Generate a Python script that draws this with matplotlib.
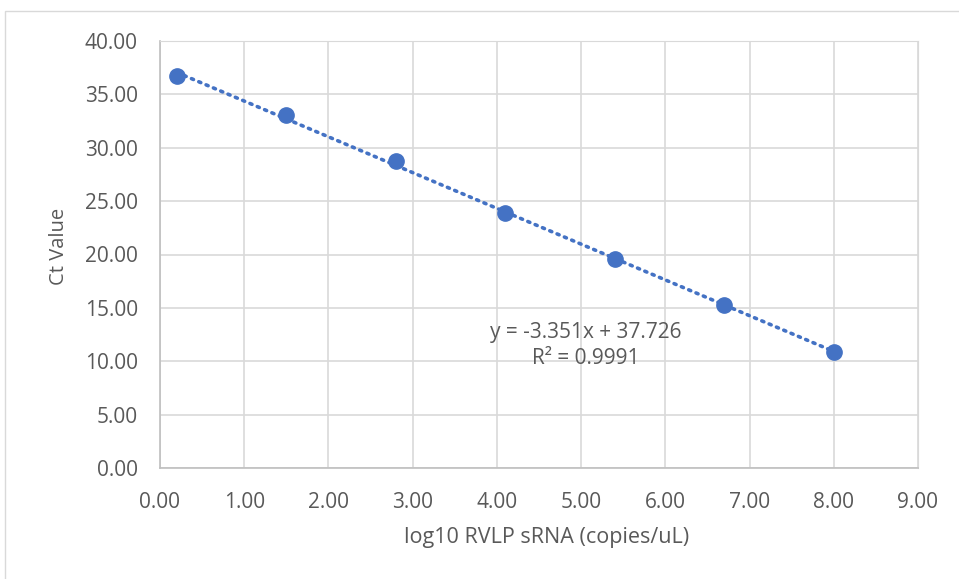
import matplotlib.pyplot as plt
from matplotlib.patches import Rectangle

log_conc = [0.2, 1.5, 2.8, 4.1, 5.4, 6.7, 8.0]
ct_values = [36.7, 33.05, 28.75, 23.9, 19.55, 15.25, 10.85]
slope = -3.351
intercept = 37.726
r2 = 0.9991

blue = '#4472C4'
grey_txt = '#595959'
grid_col = '#D9D9D9'

plt.rcParams['font.family'] = ['Open Sans', 'DejaVu Sans']

W, H = 959, 579
fig = plt.figure(figsize=(W / 100, H / 100), dpi=100)
ax_l, ax_r, ax_t, ax_b = 160, 918, 41, 468
ax = fig.add_axes([ax_l / W, 1 - ax_b / H, (ax_r - ax_l) / W, (ax_b - ax_t) / H])

# chart border
fig.patches.append(Rectangle((5 / W, -0.01), 1.0, 1 - 11 / H + 0.01, transform=fig.transFigure,
                             fill=False, edgecolor='#D9D9D9', linewidth=1))

x_line = [log_conc[0], log_conc[-1]]
y_line = [slope * v + intercept for v in x_line]
ax.plot(x_line, y_line, linestyle=(0, (0.6, 1.6)), color=blue, linewidth=2.6,
        dash_capstyle='round', zorder=2)
ax.plot(log_conc, ct_values, 'o', color=blue, markersize=11, zorder=3)

ax.set_xlim(0, 9)
ax.set_ylim(0, 40)
ax.set_xticks(range(0, 10))
ax.set_yticks(range(0, 45, 5))
ax.xaxis.set_major_formatter(lambda v, p: f'{v:.2f}')
ax.yaxis.set_major_formatter(lambda v, p: f'{v:.2f}')
ax.tick_params(length=0, labelsize=15, colors=grey_txt)
ax.tick_params(axis='x', pad=17)
ax.tick_params(axis='y', pad=16)
ax.grid(True, color=grid_col, linewidth=1.2)
ax.set_axisbelow(True)
for side in ['top', 'right']:
    ax.spines[side].set_color(grid_col)
for side in ['left', 'bottom']:
    ax.spines[side].set_color('#BFBFBF')
    ax.spines[side].set_linewidth(1.2)

ax.set_xlabel('log10 RVLP sRNA (copies/uL)', fontsize=15.5, color=grey_txt)
ax.xaxis.set_label_coords((547 - ax_l) / (ax_r - ax_l), (ax_b - 538) / (ax_b - ax_t), transform=ax.transAxes)
ax.xaxis.label.set_va('center')
ax.set_ylabel('Ct Value', fontsize=14.5, color=grey_txt)
ax.yaxis.set_label_coords((59 - ax_l) / (ax_r - ax_l), (ax_b - 246) / (ax_b - ax_t), transform=ax.transAxes)
ax.yaxis.label.set_va('center')

ax.text(5.05, 11.5, f'y = {slope}x + {intercept}\nR² = {r2}', ha='center', va='center',
        fontsize=15, color=grey_txt, linespacing=1.3)

fig.savefig('out.png', dpi=100)
